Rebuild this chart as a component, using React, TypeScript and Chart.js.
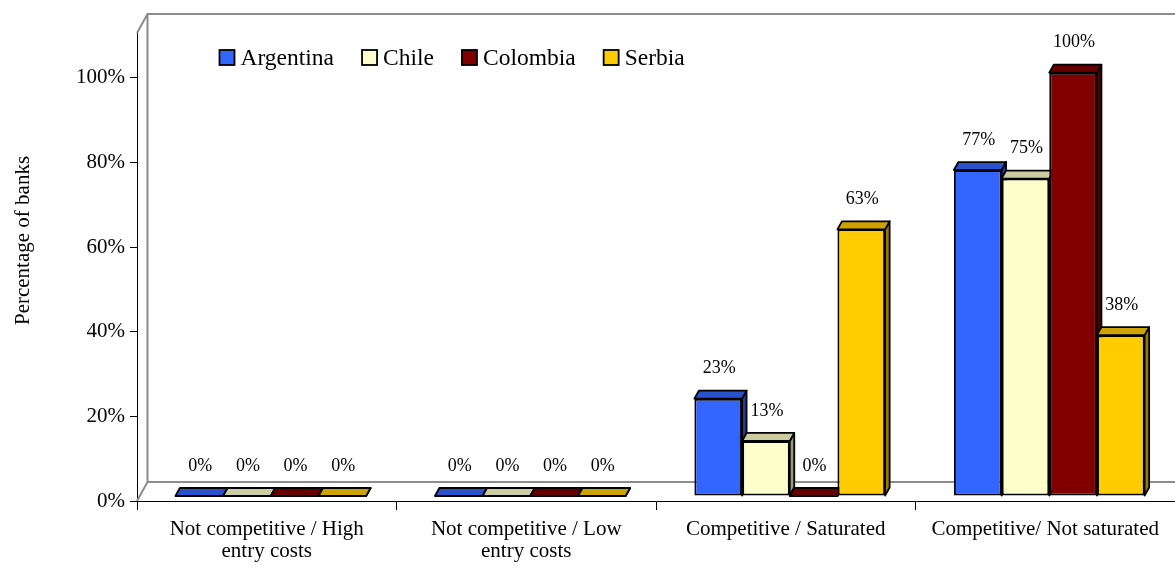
import { useEffect, useRef } from "react";
import { Chart, registerables } from "chart.js";

Chart.register(...registerables);

// ---- data ----
const categories: (string | string[])[] = [
  ["Not competitive / High", "entry costs"],
  ["Not competitive / Low", "entry costs"],
  "Competitive / Saturated",
  "Competitive/ Not saturated",
];
const seriesNames = ["Argentina", "Chile", "Colombia", "Serbia"];
const argentina = [0, 0, 23, 77];
const chile = [0, 0, 13, 75];
const colombia = [0, 0, 0, 100];
const serbia = [0, 0, 63, 38];
const seriesColors = ["#3366FF", "#FFFFCC", "#800000", "#FFCC00"];
const yTicks = [0, 20, 40, 60, 80, 100];
const yAxisTitle = "Percentage of banks";

const FONT = "'Liberation Serif', 'Times New Roman', serif";

// ---- 3D styling ----
const WALL_DX = 10.5;
const WALL_DY = -19;
const BAR_SHIFT_X = 4;
const BAR_SHIFT_Y = -5;
const BAR_DX = 4.5;
const BAR_DY = -8;
const OUTLINE = 1.8;

function shade(hex: string, f: number): string {
  const n = parseInt(hex.slice(1), 16);
  const r = Math.round(((n >> 16) & 255) * f);
  const g = Math.round(((n >> 8) & 255) * f);
  const b = Math.round((n & 255) * f);
  return `rgb(${r},${g},${b})`;
}

function poly(ctx: CanvasRenderingContext2D, pts: number[][], fill: string) {
  ctx.beginPath();
  ctx.moveTo(pts[0][0], pts[0][1]);
  for (let i = 1; i < pts.length; i++) ctx.lineTo(pts[i][0], pts[i][1]);
  ctx.closePath();
  ctx.fillStyle = fill;
  ctx.fill();
  ctx.stroke();
}

const threeD = {
  id: "threeD",
  beforeDatasetsDraw(chart: any) {
    const { ctx, chartArea: a } = chart;
    // walls
    ctx.save();
    ctx.strokeStyle = "#8c8c8c";
    ctx.lineWidth = 2;
    ctx.beginPath();
    ctx.moveTo(a.left, a.top);
    ctx.lineTo(a.left + WALL_DX, a.top + WALL_DY);
    ctx.lineTo(a.right + WALL_DX, a.top + WALL_DY);
    ctx.moveTo(a.left + WALL_DX, a.top + WALL_DY);
    ctx.lineTo(a.left + WALL_DX, a.bottom + WALL_DY);
    ctx.lineTo(a.right + WALL_DX, a.bottom + WALL_DY);
    ctx.moveTo(a.left, a.bottom);
    ctx.lineTo(a.left + WALL_DX, a.bottom + WALL_DY);
    ctx.stroke();
    ctx.restore();

    // bars: shift into depth, draw sides then tops
    ctx.save();
    ctx.translate(BAR_SHIFT_X, BAR_SHIFT_Y);
    ctx.strokeStyle = "#000";
    ctx.lineWidth = OUTLINE;
    ctx.lineJoin = "round";
    const metas = chart.data.datasets.map((_: any, i: number) => chart.getDatasetMeta(i));
    metas.forEach((meta: any, di: number) => {
      const col = seriesColors[di];
      meta.data.forEach((el: any) => {
        const R = el.x + el.width / 2;
        const top = Math.min(el.y, el.base);
        const base = el.base;
        poly(ctx, [[R, top], [R + BAR_DX, top + BAR_DY], [R + BAR_DX, base + BAR_DY], [R, base]], shade(col, 0.6));
      });
    });
    metas.forEach((meta: any, di: number) => {
      const col = seriesColors[di];
      meta.data.forEach((el: any) => {
        const L = el.x - el.width / 2;
        const R = el.x + el.width / 2;
        const top = Math.min(el.y, el.base);
        poly(ctx, [[L, top], [R, top], [R + BAR_DX, top + BAR_DY], [L + BAR_DX, top + BAR_DY]], shade(col, 0.8));
      });
    });
  },
  afterDatasetsDraw(chart: any) {
    const { ctx } = chart;
    ctx.restore();
    // data labels
    ctx.save();
    ctx.fillStyle = "#000";
    ctx.font = `18px ${FONT}`;
    ctx.textAlign = "center";
    ctx.textBaseline = "middle";
    chart.data.datasets.forEach((ds: any, di: number) => {
      const meta = chart.getDatasetMeta(di);
      meta.data.forEach((el: any, j: number) => {
        const top = Math.min(el.y, el.base);
        ctx.fillText(`${ds.data[j]}%`, el.x + BAR_SHIFT_X + 1, top + BAR_SHIFT_Y - 30);
      });
    });
    ctx.restore();
  },
  afterDraw(chart: any) {
    const { ctx } = chart;
    ctx.save();
    // legend
    ctx.font = `23.5px ${FONT}`;
    ctx.textBaseline = "alphabetic";
    let x = 219.5;
    const boxTop = 50;
    const box = 15;
    seriesNames.forEach((name, i) => {
      ctx.fillStyle = seriesColors[i];
      ctx.fillRect(x, boxTop, box, box);
      ctx.strokeStyle = "#000";
      ctx.lineWidth = OUTLINE;
      ctx.strokeRect(x, boxTop, box, box);
      ctx.fillStyle = "#000";
      ctx.textAlign = "left";
      const tx = x + box + 6;
      ctx.fillText(name, tx, 65);
      x = tx + ctx.measureText(name).width + 28;
    });
    // y axis title
    ctx.font = `21px ${FONT}`;
    ctx.translate(23, 240.5);
    ctx.rotate(-Math.PI / 2);
    ctx.textAlign = "center";
    ctx.textBaseline = "middle";
    ctx.fillText(yAxisTitle, 0, 0);
    ctx.restore();
  },
};

export default function App() {
  const ref = useRef<HTMLCanvasElement | null>(null);
  useEffect(() => {
    if (!ref.current) return;
    const datasets = [argentina, chile, colombia, serbia].map((d, i) => ({
      label: seriesNames[i],
      data: d,
      backgroundColor: seriesColors[i],
      borderColor: "#000",
      borderWidth: 2,
      borderSkipped: false as const,
      categoryPercentage: 0.735,
      barPercentage: 1.0,
    }));
    const chart = new Chart(ref.current, {
      type: "bar",
      data: { labels: categories as any, datasets },
      options: {
        responsive: false,
        animation: false,
        devicePixelRatio: 1,
        layout: { padding: { top: 33, left: 0, right: 0, bottom: 0 } },
        plugins: { legend: { display: false }, tooltip: { enabled: false } },
        scales: {
          x: {
            offset: true,
            grid: { display: true, drawOnChartArea: false, drawTicks: true, tickLength: 9, offset: true, color: "#000" },
            border: { display: true, color: "#000", width: 1 },
            ticks: {
              color: "#000",
              font: { family: FONT, size: 21, lineHeight: 1.05 },
              padding: 8,
              maxRotation: 0,
              autoSkip: false,
            },
            afterFit: (s: any) => {
              s.height = 67;
            },
          },
          y: {
            min: 0,
            max: 110.56,
            grid: { display: true, drawOnChartArea: false, drawTicks: true, tickLength: 7, color: "#000" },
            border: { display: true, color: "#000", width: 1 },
            ticks: {
              color: "#000",
              font: { family: FONT, size: 21 },
              padding: 5,
              callback: (v: any) => `${v}%`,
            },
            afterBuildTicks: (s: any) => {
              s.ticks = yTicks.map((v) => ({ value: v }));
            },
            afterFit: (s: any) => {
              s.width = 137;
            },
          },
        },
      },
      plugins: [threeD],
    });
    return () => chart.destroy();
  }, []);
  return (
    <div style={{ position: "absolute", left: 0, top: 0, width: 1175, height: 568, background: "#fff" }}>
      <canvas ref={ref} width={1175} height={568} style={{ display: "block" }} />
    </div>
  );
}
